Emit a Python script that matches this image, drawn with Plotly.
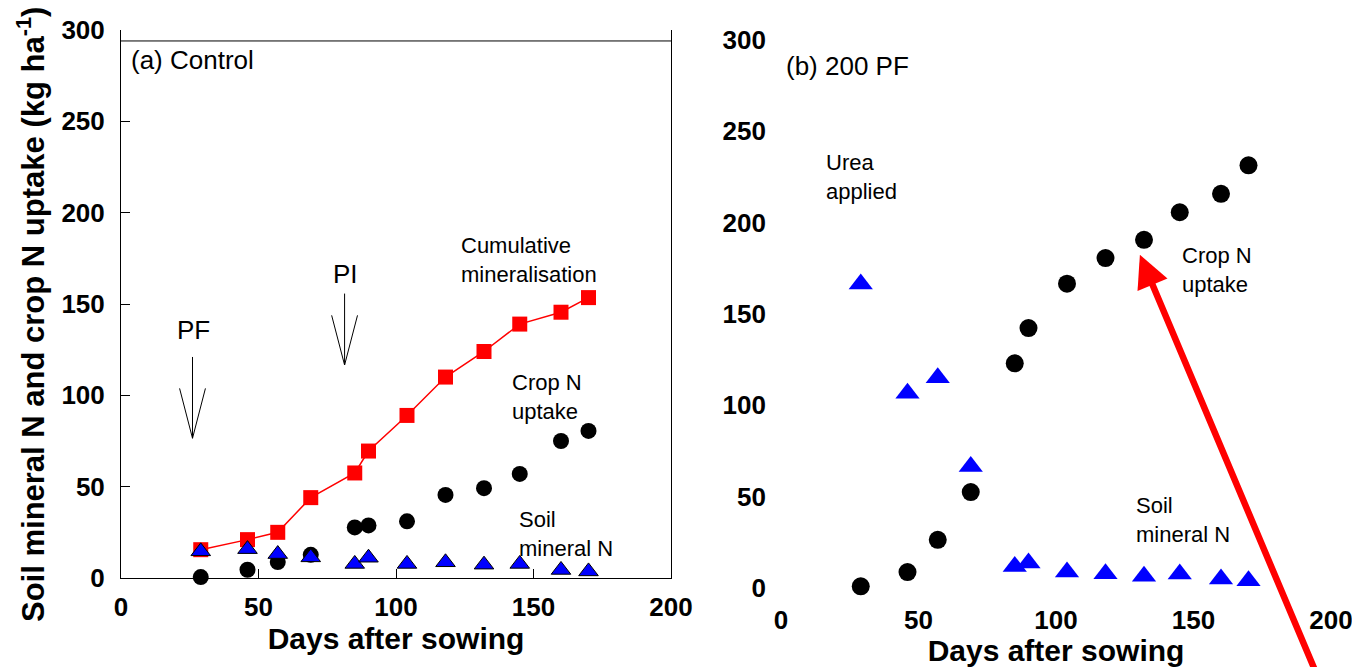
import plotly.graph_objects as go

# ---------------- data ----------------
days = [29, 46, 57, 69, 85, 90, 104, 118, 132, 145, 160, 170]

# (a) Control
cum_mineralisation_a = [15.5, 21, 25, 44, 57.5, 69.5, 89, 110, 124, 139, 145.5, 153.5]
crop_uptake_a = [0.5, 4.5, 8.7, 12.7, 27.7, 28.8, 31, 45.5, 49.2, 57, 75, 80.5]
soil_mineral_a = [14.6, 15.8, 13.1, 11.3, 7.7, 11.1, 7.7, 8.6, 7.3, 7.7, 4.4, 3.6]

# (b) 200 PF
crop_uptake_b = [0.9, 8.7, 26.4, 52.5, 123, 142.3, 166.6, 180.6, 190.6, 205.7, 215.8, 231.4]
soil_mineral_b = [166.4, 106.6, 115.1, 66.5, 11.8, 13.7, 8.7, 7.8, 6.4, 7.7, 4.9, 4.0]

x_ticks = [0, 50, 100, 150, 200]
y_ticks = [0, 50, 100, 150, 200, 250, 300]

# growth-stage markers in panel (a): label, day, arrow top, arrow tip, label y
stage_labels = ["PF", "PI"]
stage_days = [26.0, 81.3]
stage_arrow_top = [121, 155.7]
stage_arrow_tip = [76.5, 116.6]
stage_head_base = [103.8, 143.8]
stage_label_y = [135.8, 166.5]

FONT = "Liberation Sans, Arial, sans-serif"
RED = "#ff0000"
BLUE = "#0000ff"

fig = go.Figure()

# panel (a)
fig.add_trace(go.Scatter(x=days, y=cum_mineralisation_a, mode="lines+markers",
                         line=dict(color=RED, width=1.5),
                         marker=dict(symbol="square", size=15, color=RED),
                         cliponaxis=False, xaxis="x", yaxis="y",
                         name="Cumulative mineralisation"))
fig.add_trace(go.Scatter(x=days, y=crop_uptake_a, mode="markers",
                         marker=dict(symbol="circle", size=16, color="black"),
                         cliponaxis=False, xaxis="x", yaxis="y", name="Crop N uptake"))
fig.add_trace(go.Scatter(x=days, y=soil_mineral_a, mode="markers",
                         marker=dict(symbol="triangle-up", size=17, color=BLUE,
                                     line=dict(color="black", width=1)),
                         cliponaxis=False, xaxis="x", yaxis="y", name="Soil mineral N"))

# panel (b)
fig.add_trace(go.Scatter(x=days, y=crop_uptake_b, mode="markers",
                         marker=dict(symbol="circle", size=18, color="black"),
                         cliponaxis=False, xaxis="x2", yaxis="y2", name="Crop N uptake"))
fig.add_trace(go.Scatter(x=days, y=soil_mineral_b, mode="markers",
                         marker=dict(symbol="triangle-up", size=21, color=BLUE),
                         cliponaxis=False, xaxis="x2", yaxis="y2", name="Soil mineral N"))

tickfont = dict(family=FONT, size=26, color="black", weight="bold")
titlefont = dict(family=FONT, size=30, color="black", weight="bold")

common_x = dict(range=[0, 200], tickvals=x_ticks, showgrid=False, zeroline=False,
                tickfont=tickfont, fixedrange=True, automargin=False,
                ticklabeloverflow="allow")
common_y = dict(range=[0, 300], tickvals=y_ticks, showgrid=False, zeroline=False,
                tickfont=tickfont, fixedrange=True, automargin=False)

W, H = 1352, 667
fig.update_layout(
    width=W, height=H,
    margin=dict(l=0, r=0, t=0, b=0, pad=0),
    paper_bgcolor="white", plot_bgcolor="white",
    showlegend=False,
    font=dict(family=FONT, color="black"),
    xaxis=dict(**common_x, domain=[121 / W, 671 / W], anchor="y",
               showline=True, linecolor="black", linewidth=1,
               ticks="inside", ticklen=9, tickcolor="black",
               ticklabelstandoff=6,
               title=dict(text="Days after sowing", font=titlefont, standoff=2)),
    yaxis=dict(**common_y, domain=[(H - 578) / H, (H - 30) / H], anchor="x",
               showline=True, linecolor="black", linewidth=1, mirror=True,
               ticks="inside", ticklen=9, tickcolor="black",
               ticklabelstandoff=10),
    xaxis2=dict(**common_x, domain=[781 / W, 1331 / W], anchor="y2",
                showline=False, ticks="", ticklabelstandoff=14,
                title=dict(text="Days after sowing", font=titlefont, standoff=2)),
    yaxis2=dict(**common_y, domain=[(H - 588) / H, (H - 40) / H], anchor="x2",
                showline=False, ticks="", ticklabelstandoff=14),
)

# y-axis title of panel (a)
fig.add_annotation(xref="paper", yref="paper", x=31 / W, y=(H - 315) / H,
                   text="Soil mineral N and crop N uptake (kg ha<sup>-1</sup>)",
                   textangle=-90, showarrow=False, xanchor="center", yanchor="middle",
                   font=dict(family=FONT, size=31, color="black", weight="bold"))

# top border line of panel (a)
fig.add_shape(type="line", xref="x", yref="y", x0=0, x1=200, y0=294, y1=294,
              line=dict(color="black", width=1))

# stage arrows (open heads)
for lab, d, top, tip, hb, ly in zip(stage_labels, stage_days, stage_arrow_top,
                                    stage_arrow_tip, stage_head_base, stage_label_y):
    fig.add_shape(type="line", xref="x", yref="y", x0=d, x1=d, y0=top, y1=tip,
                  line=dict(color="black", width=1))
    fig.add_shape(type="line", xref="x", yref="y", x0=d - 4.7, x1=d, y0=hb, y1=tip,
                  line=dict(color="black", width=1))
    fig.add_shape(type="line", xref="x", yref="y", x0=d + 4.7, x1=d, y0=hb, y1=tip,
                  line=dict(color="black", width=1))
    fig.add_annotation(xref="x", yref="y", x=d + 0.5, y=ly, text=lab, showarrow=False,
                       xanchor="center", yanchor="middle",
                       font=dict(family=FONT, size=26, color="black"))

lab_font = dict(family=FONT, size=22, color="black")
panel_font = dict(family=FONT, size=26, color="black")

# panel (a) labels
fig.add_annotation(xref="x", yref="y", x=3.0, y=283.7, text="(a) Control",
                   showarrow=False, xanchor="left", yanchor="middle", font=panel_font)
fig.add_annotation(xref="x", yref="y", x=123, y=174, text="Cumulative<br>mineralisation",
                   showarrow=False, xanchor="left", yanchor="middle", align="left", font=lab_font)
fig.add_annotation(xref="x", yref="y", x=141.5, y=99, text="Crop N<br>uptake",
                   showarrow=False, xanchor="left", yanchor="middle", align="left", font=lab_font)
fig.add_annotation(xref="x", yref="y", x=144, y=24, text="Soil<br>mineral N",
                   showarrow=False, xanchor="left", yanchor="middle", align="left", font=lab_font)

# panel (b) labels
fig.add_annotation(xref="x2", yref="y2", x=1.0, y=286, text="(b) 200 PF",
                   showarrow=False, xanchor="left", yanchor="middle", font=panel_font)
fig.add_annotation(xref="x2", yref="y2", x=15.8, y=225, text="Urea<br>applied",
                   showarrow=False, xanchor="left", yanchor="middle", align="left", font=lab_font)
fig.add_annotation(xref="x2", yref="y2", x=145, y=174, text="Crop N<br>uptake",
                   showarrow=False, xanchor="left", yanchor="middle", align="left", font=lab_font)
fig.add_annotation(xref="x2", yref="y2", x=128.4, y=37.4, text="Soil<br>mineral N",
                   showarrow=False, xanchor="left", yanchor="middle", align="left", font=lab_font)

# red arrow in panel (b)
fig.add_annotation(xref="x2", yref="y2", axref="x2", ayref="y2",
                   x=130.5, y=182.4, ax=195, ay=-48, text="", showarrow=True,
                   arrowhead=2, arrowsize=1.0, arrowwidth=6.5, arrowcolor=RED,
                   standoff=0)

fig.write_html("out.html", config={"displayModeBar": False},
               post_script="document.body.style.margin='0';document.body.style.overflow='hidden';")
